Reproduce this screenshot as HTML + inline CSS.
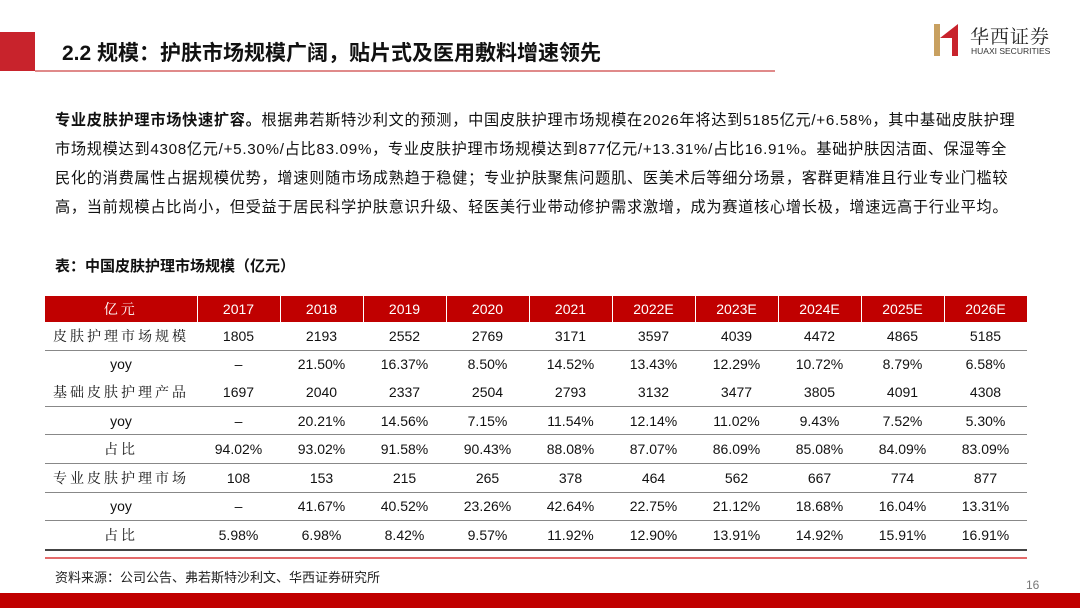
<!DOCTYPE html>
<html><head><meta charset="utf-8">
<style>
body{margin:0;width:1080px;height:608px;background:#fff;position:relative;overflow:hidden;font-family:"Liberation Sans","Noto Sans CJK SC",sans-serif;}
.abs{position:absolute;}
#para{left:55px;top:106px;font-size:15.2px;line-height:29px;color:#111;letter-spacing:0.7px;white-space:nowrap;}
table{border-collapse:collapse;position:absolute;left:45px;top:296px;width:982px;table-layout:fixed;}
th{background:#c00000;color:#fff;font-weight:normal;height:26px;font-size:14px;border-right:1px solid #fff;padding:0;}
td{height:27.6px;padding:0;text-align:center;font-size:14px;color:#111;}
td.c{font-family:"Noto Serif CJK SC",serif;letter-spacing:3px;}
th.c{font-family:"Noto Serif CJK SC",serif;letter-spacing:3px;}
tr.l td{border-bottom:1px solid #888;}
tr.last td{border-bottom:2px solid #444;}
</style></head><body>
<div class="abs" style="left:0;top:32px;width:35px;height:39px;background:#c8232c;"></div>
<div class="abs" style="left:35px;top:70px;width:740px;height:2px;background:#e08a8a;"></div>
<div class="abs" style="left:62px;top:37px;font-size:21px;font-weight:bold;color:#111;">2.2 规模：护肤市场规模广阔，贴片式及医用敷料增速领先</div>
<div class="abs" style="left:934px;top:24px;width:30px;height:32px;">
<svg width="30" height="32"><rect x="0" y="0" width="6" height="32" fill="#c8a060"/><polygon points="6,14 24,0 24,32 18,32 18,14" fill="#c8232c"/></svg></div>
<div class="abs" style="left:970px;top:22px;font-size:19px;color:#222;font-family:'Noto Serif CJK SC',serif;letter-spacing:1px;">华西证券</div>
<div class="abs" style="left:971px;top:46px;font-size:8.5px;color:#333;">HUAXI SECURITIES</div>
<div id="para" class="abs"><b>专业皮肤护理市场快速扩容。</b>根据弗若斯特沙利文的预测，中国皮肤护理市场规模在2026年将达到5185亿元/+6.58%，其中基础皮肤护理<br>市场规模达到4308亿元/+5.30%/占比83.09%，专业皮肤护理市场规模达到877亿元/+13.31%/占比16.91%。基础护肤因洁面、保湿等全<br>民化的消费属性占据规模优势，增速则随市场成熟趋于稳健；专业护肤聚焦问题肌、医美术后等细分场景，客群更精准且行业专业门槛较<br>高，当前规模占比尚小，但受益于居民科学护肤意识升级、轻医美行业带动修护需求激增，成为赛道核心增长极，增速远高于行业平均。</div>
<div class="abs" style="left:55px;top:255px;font-size:15px;font-weight:bold;color:#111;">表：中国皮肤护理市场规模（亿元）</div>
<table id="tbl"></table>
<div class="abs" style="left:45px;top:557px;width:982px;height:1.5px;background:#e36a6a;"></div>
<div class="abs" style="left:55px;top:567px;font-size:13px;color:#222;">资料来源：公司公告、弗若斯特沙利文、华西证券研究所</div>
<div class="abs" style="left:1026px;top:578px;font-size:12px;color:#777;">16</div>
<div class="abs" style="left:0;top:593px;width:1080px;height:15px;background:#c00000;"></div>
<script>
const years=["2017","2018","2019","2020","2021","2022E","2023E","2024E","2025E","2026E"];
const rowLabels=["皮肤护理市场规模","yoy","基础皮肤护理产品","yoy","占比","专业皮肤护理市场","yoy","占比"];
const totalSize=["1805","2193","2552","2769","3171","3597","4039","4472","4865","5185"];
const totalYoy=["–","21.50%","16.37%","8.50%","14.52%","13.43%","12.29%","10.72%","8.79%","6.58%"];
const basicSize=["1697","2040","2337","2504","2793","3132","3477","3805","4091","4308"];
const basicYoy=["–","20.21%","14.56%","7.15%","11.54%","12.14%","11.02%","9.43%","7.52%","5.30%"];
const basicShare=["94.02%","93.02%","91.58%","90.43%","88.08%","87.07%","86.09%","85.08%","84.09%","83.09%"];
const proSize=["108","153","215","265","378","464","562","667","774","877"];
const proYoy=["–","41.67%","40.52%","23.26%","42.64%","22.75%","21.12%","18.68%","16.04%","13.31%"];
const proShare=["5.98%","6.98%","8.42%","9.57%","11.92%","12.90%","13.91%","14.92%","15.91%","16.91%"];
const rows=[totalSize,totalYoy,basicSize,basicYoy,basicShare,proSize,proYoy,proShare];
const rowNames=['total-size-row','total-yoy-row','basic-size-row','basic-yoy-row','basic-share-row','pro-size-row','pro-yoy-row','pro-share-row'];
const t=document.getElementById('tbl');
const cg=document.createElement('colgroup');
const c0=document.createElement('col');c0.style.width='152px';cg.appendChild(c0);
years.forEach(()=>{const c=document.createElement('col');c.style.width='83px';cg.appendChild(c);});
t.appendChild(cg);
const hr=document.createElement('tr');


const h0=document.createElement('th');h0.className='c';h0.textContent='亿元';


hr.appendChild(h0);
years.forEach(y=>{const th=document.createElement('th');th.textContent=y;


hr.appendChild(th);});
t.appendChild(hr);
rows.forEach((vals,i)=>{
 const tr=document.createElement('tr');
 
 
 if(i===rows.length-1) tr.className='last'; else if(i!==1) tr.className='l';
 const td0=document.createElement('td');td0.textContent=rowLabels[i];
 if(rowLabels[i]!=='yoy') td0.className='c';
 
 
 tr.appendChild(td0);
 vals.forEach(v=>{const td=document.createElement('td');td.textContent=v;
 
 
 tr.appendChild(td);});
 t.appendChild(tr);
});
</script>
</body></html>
